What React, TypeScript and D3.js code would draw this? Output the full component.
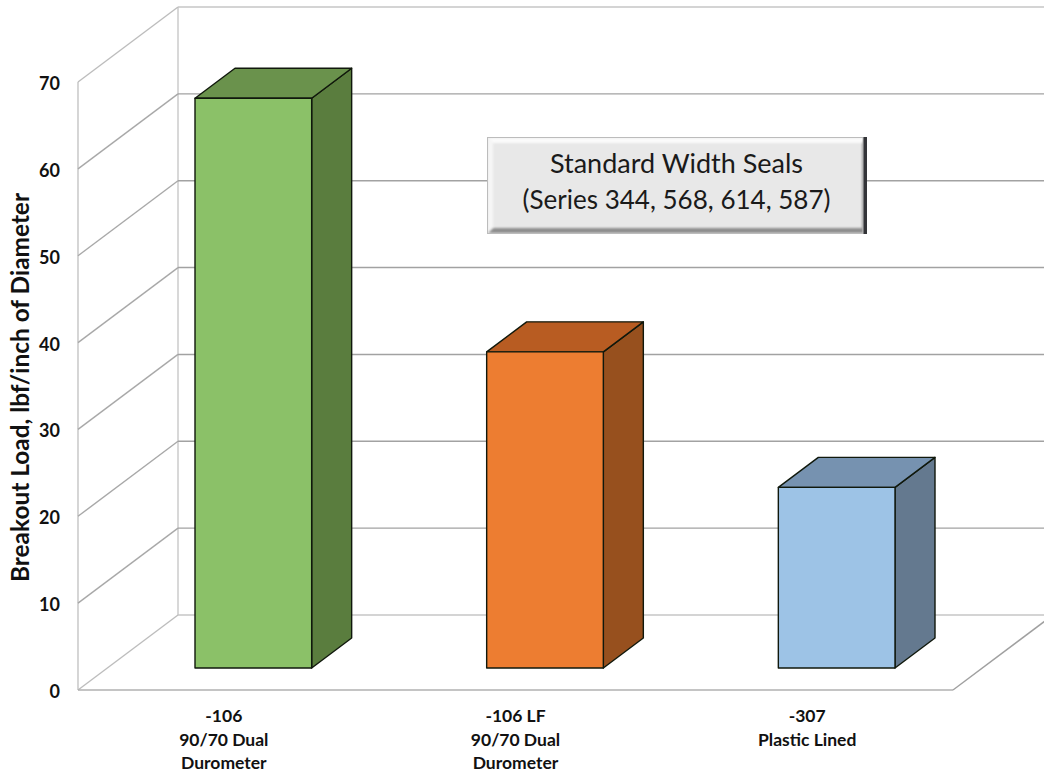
import React from "react";
import * as d3 from "d3";

// Chart content
const categories = ["-106", "-106 LF", "-307"];
const categoryLines = [
  ["-106", "90/70 Dual", "Durometer"],
  ["-106 LF", "90/70 Dual", "Durometer"],
  ["-307", "Plastic Lined"],
];
const breakoutLoad = [65.6, 36.4, 20.8];
const yTicks = [0, 10, 20, 30, 40, 50, 60, 70];
const faceColors = ["#8bc168", "#ed7d31", "#9dc3e6"];
const topColors = ["#6a924c", "#b85c22", "#7692b0"];
const sideColors = ["#5a7d3e", "#97501e", "#64798f"];
const yTitle = "Breakout Load, lbf/inch of Diameter";
const noteLines = ["Standard Width Seals", "(Series 344, 568, 614, 587)"];

const WIDTH = 1044;
const HEIGHT = 776;
const FONT = "Lato, Carlito, Calibri, sans-serif";

// Oblique projection: the floor recedes by (wallDx, -wallDy)
const wallDx = 100;
const wallDy = 75;
const barDx = 40;
const barDy = 30;
const barInsetX = 29.5;
const barInsetY = 22;

const y = d3.scaleLinear().domain([0, 70]).range([690, 82]);
const xLabel = d3.scaleBand<string>().domain(categories).range([78, 953]);
const xBar = d3
  .scaleBand<string>()
  .domain(categories)
  .range([78 + barInsetX, 953 + barInsetX])
  .paddingInner(0.6)
  .paddingOuter(0.3);

const pts = (p: [number, number][]) => p.map((d) => d.join(",")).join(" ");

function Walls() {
  const x0 = 78;
  const x1 = 953;
  const bx0 = x0 + wallDx;
  const bx1 = x1 + wallDx;
  return (
    <g fill="none" strokeWidth={1.4}>
      <line x1={x0} x2={x0} y1={y(70)} y2={y(0)} stroke="#c4c4c4" />
      <line x1={bx0} x2={bx0} y1={y(70) - wallDy} y2={y(0) - wallDy} stroke="#c8c8c8" />
      {yTicks.map((t) => {
        const edge = t === 0 || t === 70;
        const c = edge ? "#c6c6c6" : "#a2a2a2";
        return (
          <g key={t}>
            <line x1={x0} y1={y(t)} x2={bx0} y2={y(t) - wallDy} stroke={edge ? "#bdbdbd" : "#a8a8a8"} />
            <line x1={bx0} y1={y(t) - wallDy} x2={bx1} y2={y(t) - wallDy} stroke={c} />
          </g>
        );
      })}
      {/* Floor front edge and right edge */}
      <line x1={x0} y1={y(0)} x2={x1} y2={y(0)} stroke="#b0b0b0" />
      <line x1={x1} y1={y(0)} x2={bx1} y2={y(0) - wallDy} stroke="#a0a0a0" />
    </g>
  );
}

function Bars() {
  const base = y(0) - barInsetY;
  return (
    <g stroke="#10180c" strokeWidth={1.4} strokeLinejoin="round">
      {categories.map((c, i) => {
        const l = xBar(c)!;
        const r = l + xBar.bandwidth();
        const t = base - (y(0) - y(breakoutLoad[i]));
        return (
          <g key={c}>
            <polygon
              fill={sideColors[i]}
              points={pts([[r, t], [r + barDx, t - barDy], [r + barDx, base - barDy], [r, base]])}
            />
            <polygon
              fill={topColors[i]}
              points={pts([[l, t], [l + barDx, t - barDy], [r + barDx, t - barDy], [r, t]])}
            />
            <rect x={l} y={t} width={r - l} height={base - t} fill={faceColors[i]} />
          </g>
        );
      })}
    </g>
  );
}

// Raised text box: soft bevelled rim with a dark right edge
function NoteBox() {
  const l = 488;
  const r = 867;
  const t = 138;
  const b = 233;
  const e = 5;
  return (
    <g>
      <defs>
        <clipPath id="note-clip">
          <rect x={l} y={t} width={r - l} height={b - t} />
        </clipPath>
        <filter id="note-soft" x="-5%" y="-5%" width="110%" height="110%">
          <feGaussianBlur stdDeviation="1.1" />
        </filter>
      </defs>
      <rect x={l} y={t} width={r - l} height={b - t} fill="#e8e8e8" />
      <g clipPath="url(#note-clip)">
        <g filter="url(#note-soft)">
          <polygon fill="#fbfbfb" points={pts([[l, t], [r, t], [r - e, t + e], [l + e, t + e]])} />
          <polygon fill="#f6f6f6" points={pts([[l, t], [l + e, t + e], [l + e, b - e], [l, b]])} />
          <polygon fill="#8e8e8e" points={pts([[l, b], [l + e, b - e], [r - e, b - e], [r, b]])} />
          <polygon fill="#9a9a9a" points={pts([[r, t], [r - e, t + e], [r - e, b - e], [r, b]])} />
        </g>
      </g>
      <rect x={r - 4} y={t - 1} width={4} height={b - t + 2} fill="#333438" />
      <rect x={l - 0.5} y={t - 0.5} width={r - l - 3.5} height={b - t + 1} fill="none" stroke="#bcbcbc" />
      <g fontFamily={FONT} fontSize={26.5} fill="#1a1a1a" textAnchor="middle">
        {noteLines.map((s, i) => (
          <text key={s} x={676.5} y={172.5 + i * 36} textLength={i === 0 ? 253 : 308} lengthAdjust="spacingAndGlyphs">
            {s}
          </text>
        ))}
      </g>
    </g>
  );
}

export default function App() {
  return (
    <svg
      width={WIDTH}
      height={HEIGHT}
      viewBox={`0 0 ${WIDTH} ${HEIGHT}`}
      style={{ position: "absolute", left: 0, top: 0, background: "#fff" }}
    >
      <Walls />
      <Bars />
      <NoteBox />
      <g fontFamily={FONT} fontWeight={700} fontSize={18} fill="#111" textAnchor="end">
        {yTicks.map((t) => (
          <text key={t} x={60} y={y(t) + 8}>
            {t}
          </text>
        ))}
      </g>
      <g fontFamily={FONT} fontWeight={700} fontSize={17.5} fill="#111" textAnchor="middle">
        {categories.map((c, i) =>
          categoryLines[i].map((line, j) => (
            <text key={line} x={xLabel(c)! + xLabel.bandwidth() / 2} y={722 + j * 23.5}>
              {line}
            </text>
          ))
        )}
      </g>
      <text
        transform="translate(29,387.5) rotate(-90)"
        fontFamily={FONT}
        fontWeight={700}
        fontSize={24}
        fill="#111"
        textAnchor="middle"
        textLength={389}
        lengthAdjust="spacingAndGlyphs"
      >
        {yTitle}
      </text>
    </svg>
  );
}
